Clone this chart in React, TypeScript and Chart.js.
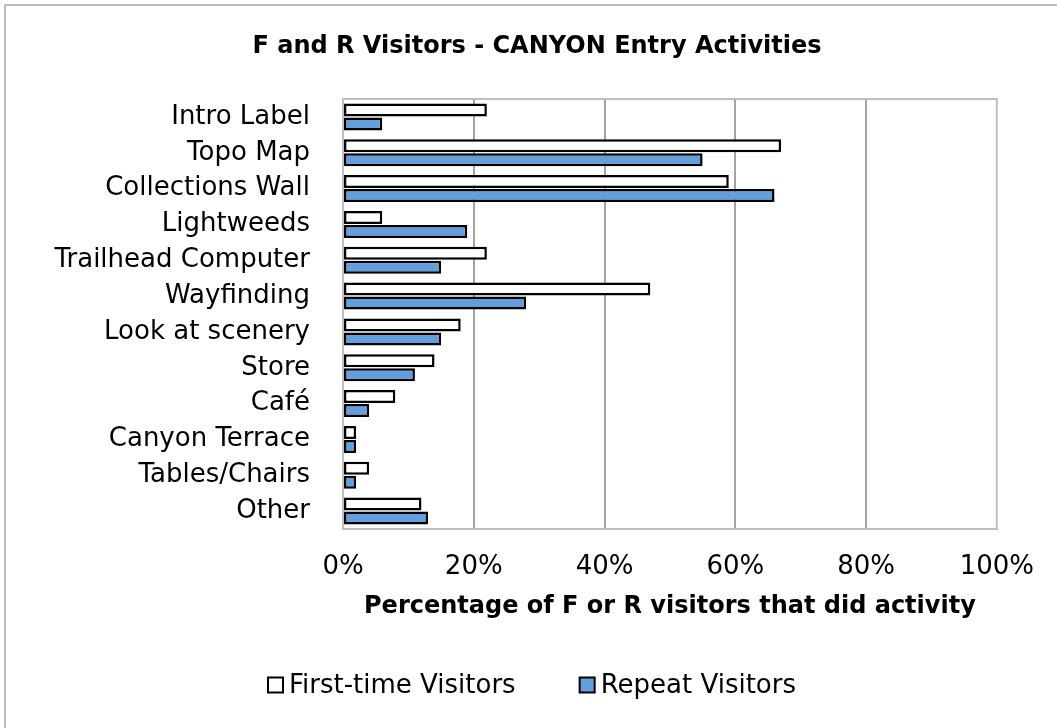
import React, { useEffect, useRef } from "react";
import { Chart, registerables } from "chart.js";

Chart.register(...registerables);

const categories = [
  "Intro Label",
  "Topo Map",
  "Collections Wall",
  "Lightweeds",
  "Trailhead Computer",
  "Wayfinding",
  "Look at scenery",
  "Store",
  "Café",
  "Canyon Terrace",
  "Tables/Chairs",
  "Other",
];

const firstTimeVisitors = [22, 67, 59, 6, 22, 47, 18, 14, 8, 2, 4, 12];
const repeatVisitors = [6, 55, 66, 19, 15, 28, 15, 11, 4, 2, 2, 13];

const xTicks = [0, 20, 40, 60, 80, 100];

const chartTitle = "F and R Visitors - CANYON Entry Activities";
const xAxisTitle = "Percentage of F or R visitors that did activity";

const FONT = "'DejaVu Sans', Verdana, sans-serif";
const BLUE = "#629fdc";

// Frame, chart title, plot outline and legend drawn around the bar plot
const decorations = {
  id: "decorations",
  beforeDraw(chart: any) {
    const ctx = chart.ctx;
    ctx.save();
    ctx.fillStyle = "#ffffff";
    ctx.fillRect(0, 0, chart.width, chart.height);
    ctx.strokeStyle = "#bcbcbc";
    ctx.lineWidth = 2;
    ctx.strokeRect(5, 5, chart.width + 20, chart.height + 20);
    ctx.fillStyle = "#000000";
    ctx.font = `bold 24px ${FONT}`;
    ctx.textAlign = "center";
    ctx.textBaseline = "middle";
    ctx.fillText(chartTitle, 537, 47);
    ctx.restore();
  },
  beforeDatasetsDraw(chart: any) {
    const { ctx, chartArea } = chart;
    ctx.save();
    ctx.strokeStyle = "#bfbfbf";
    ctx.lineWidth = 2;
    ctx.strokeRect(
      chartArea.left,
      chartArea.top,
      chartArea.right - chartArea.left,
      chartArea.bottom - chartArea.top
    );
    ctx.restore();
  },
  afterDraw(chart: any) {
    const ctx = chart.ctx;
    const datasets = chart.data.datasets;
    ctx.save();
    ctx.font = `26px ${FONT}`;
    ctx.textBaseline = "middle";
    ctx.textAlign = "left";
    const box = 15;
    const gap = 6;
    const itemGap = 64;
    const widths = datasets.map(
      (d: any) => box + gap + ctx.measureText(d.label).width
    );
    const total =
      widths.reduce((a: number, b: number) => a + b, 0) +
      itemGap * (datasets.length - 1);
    let x = 532 - total / 2;
    const y = 685;
    datasets.forEach((d: any, i: number) => {
      ctx.fillStyle = d.backgroundColor;
      ctx.fillRect(x, y - box / 2, box, box);
      ctx.strokeStyle = "#000000";
      ctx.lineWidth = 2;
      ctx.strokeRect(x, y - box / 2, box, box);
      ctx.fillStyle = "#000000";
      ctx.fillText(d.label, x + box + gap, y + 1);
      x += widths[i] + itemGap;
    });
    ctx.restore();
  },
};

export default function App() {
  const canvasRef = useRef<HTMLCanvasElement | null>(null);

  useEffect(() => {
    if (!canvasRef.current) return;
    const chart = new Chart(canvasRef.current, {
      type: "bar",
      data: {
        labels: categories,
        datasets: [
          {
            label: "First-time Visitors",
            data: firstTimeVisitors,
            backgroundColor: "#ffffff",
            borderColor: "#000000",
            borderWidth: 2.5,
            borderSkipped: false,
            categoryPercentage: 0.78,
            barPercentage: 0.93,
          },
          {
            label: "Repeat Visitors",
            data: repeatVisitors,
            backgroundColor: BLUE,
            borderColor: "#000000",
            borderWidth: 2.5,
            borderSkipped: false,
            categoryPercentage: 0.78,
            barPercentage: 0.93,
          },
        ],
      },
      options: {
        indexAxis: "y",
        animation: false,
        responsive: false,
        maintainAspectRatio: false,
        layout: { padding: { top: 99, right: 59, bottom: 99, left: 0 } },
        plugins: {
          legend: { display: false },
          title: { display: false },
          tooltip: { enabled: false },
        },
        scales: {
          x: {
            min: 0,
            max: 100,
            afterFit(scale: any) {
              scale.height = 100;
            },
            afterBuildTicks(scale: any) {
              scale.ticks = xTicks.map((v) => ({ value: v }));
            },
            border: { display: false },
            grid: {
              drawTicks: false,
              lineWidth: 2,
              color: (c: any) =>
                c.tick && (c.tick.value === 0 || c.tick.value === 100)
                  ? "rgba(0,0,0,0)"
                  : "#a3a3a3",
            },
            ticks: {
              padding: 23,
              color: "#000000",
              font: { family: FONT, size: 26 },
              callback: (v: any) => `${v}%`,
            },
            title: {
              display: true,
              text: xAxisTitle,
              color: "#000000",
              font: { family: FONT, size: 24, weight: "bold" },
              padding: { top: 0, bottom: 8 },
            },
          },
          y: {
            afterFit(scale: any) {
              scale.width = 343;
            },
            border: { display: false },
            grid: { display: false, drawTicks: false },
            ticks: {
              padding: 33,
              color: "#000000",
              font: { family: FONT, size: 26 },
            },
          },
        },
      },
      plugins: [decorations],
    });
    return () => chart.destroy();
  }, []);

  return (
    <div
      style={{
        position: "fixed",
        left: 0,
        top: 0,
        width: 1057,
        height: 728,
        background: "#ffffff",
      }}
    >
      <canvas ref={canvasRef} width={1057} height={728} />
    </div>
  );
}
